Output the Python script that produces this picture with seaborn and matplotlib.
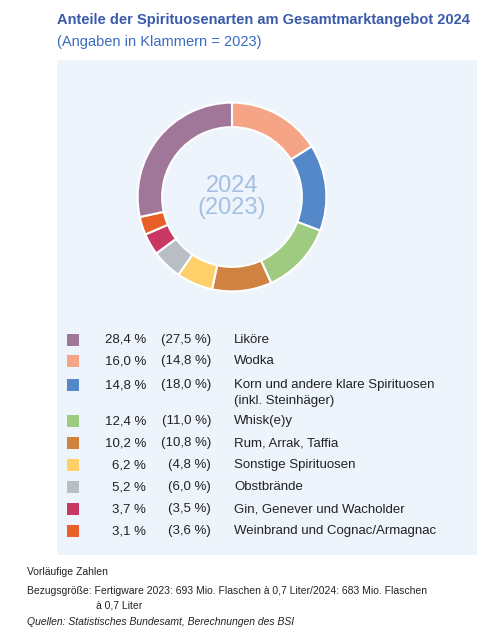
import matplotlib
matplotlib.use("Agg")
import matplotlib.pyplot as plt
import seaborn as sns
from matplotlib.patches import Rectangle

sns.set_theme(style="white")
plt.rcParams['font.family'] = ['Liberation Sans', 'DejaVu Sans']

labels = ["Liköre", "Wodka", "Korn und andere klare Spirituosen\n(inkl. Steinhäger)", "Whisk(e)y",
          "Rum, Arrak, Taffia", "Sonstige Spirituosen", "Obstbrände",
          "Gin, Genever und Wacholder", "Weinbrand und Cognac/Armagnac"]
v2024 = [28.4, 16.0, 14.8, 12.4, 10.2, 6.2, 5.2, 3.7, 3.1]
v2023 = [27.5, 14.8, 18.0, 11.0, 10.8, 4.8, 6.0, 3.5, 3.6]
colors = ["#A07799", "#F5A585", "#5588C8", "#9ECB80", "#D08240", "#FFD06A",
          "#B8BEC4", "#C83862", "#E86028"]

W, H = 500, 643
fig = plt.figure(figsize=(5, 6.43), dpi=100)
fig.patch.set_facecolor("white")
fx = lambda x: x / W
fy = lambda y: 1 - y / H

bg = fig.add_axes([fx(57), fy(555), (477 - 57) / W, (555 - 60) / H], zorder=0)
bg.set_facecolor("#EEF4FB")
bg.set_xticks([]); bg.set_yticks([])
for s in bg.spines.values():
    s.set_visible(False)

fig.text(fx(57), fy(20), "Anteile der Spirituosenarten am Gesamtmarktangebot 2024",
         color="#3A5BAA", fontsize=10.5, fontweight="bold", va="center")
fig.text(fx(57), fy(42), "(Angaben in Klammern = 2023)", color="#3A6BC0", fontsize=10.5, va="center")

cx, cy, r = 232, 197, 118
ax = fig.add_axes([fx(cx - r), fy(cy + r), 2 * r / W, 2 * r / H], zorder=2)
ax.set_facecolor("none")
order = list(range(1, 9)) + [0]
ax.pie([v2024[i] for i in order], colors=[colors[i] for i in order], startangle=90,
       counterclock=False, wedgeprops=dict(width=0.26, edgecolor="white", linewidth=1.5))
ax.set_aspect("equal")
ax.text(0, 0, "2024\n(2023)", ha="center", va="center", fontsize=17, color="#A3C0E3", linespacing=0.95)

ys = [340, 361, 385, 421, 443, 465, 487, 509, 531]
fmt = lambda v: f"{v:.1f}".replace(".", ",")
for i, y in enumerate(ys):
    fig.patches.append(Rectangle((fx(67), fy(y + 6)), 12 / W, 12 / H, transform=fig.transFigure,
                                 facecolor=colors[i], edgecolor="none", zorder=3))
    fig.text(fx(146), fy(y), f"{fmt(v2024[i])} %", ha="right", va="center", fontsize=9.5, color="#222222")
    fig.text(fx(211), fy(y), f"({fmt(v2023[i])} %)", ha="right", va="center", fontsize=9.5, color="#222222")
    txt = labels[i]
    if "\n" in txt:
        a, b = txt.split("\n")
        fig.text(fx(234), fy(y), a, ha="left", va="center", fontsize=9.5, color="#222222")
        fig.text(fx(234), fy(y + 16), b, ha="left", va="center", fontsize=9.5, color="#222222")
    else:
        fig.text(fx(234), fy(y), txt, ha="left", va="center", fontsize=9.5, color="#222222")

fig.text(fx(27), fy(572), "Vorläufige Zahlen", fontsize=7.5, va="center", color="#222222")
fig.text(fx(27), fy(591), "Bezugsgröße: Fertigware 2023: 693 Mio. Flaschen à 0,7 Liter/2024: 683 Mio. Flaschen",
         fontsize=7.5, va="center", color="#222222")
fig.text(fx(96), fy(605), "à 0,7 Liter", fontsize=7.5, va="center", color="#222222")
fig.text(fx(27), fy(622), "Quellen: Statistisches Bundesamt, Berechnungen des BSI", fontsize=7.5,
         va="center", style="italic", color="#222222")

fig.savefig("out.png", dpi=100)
